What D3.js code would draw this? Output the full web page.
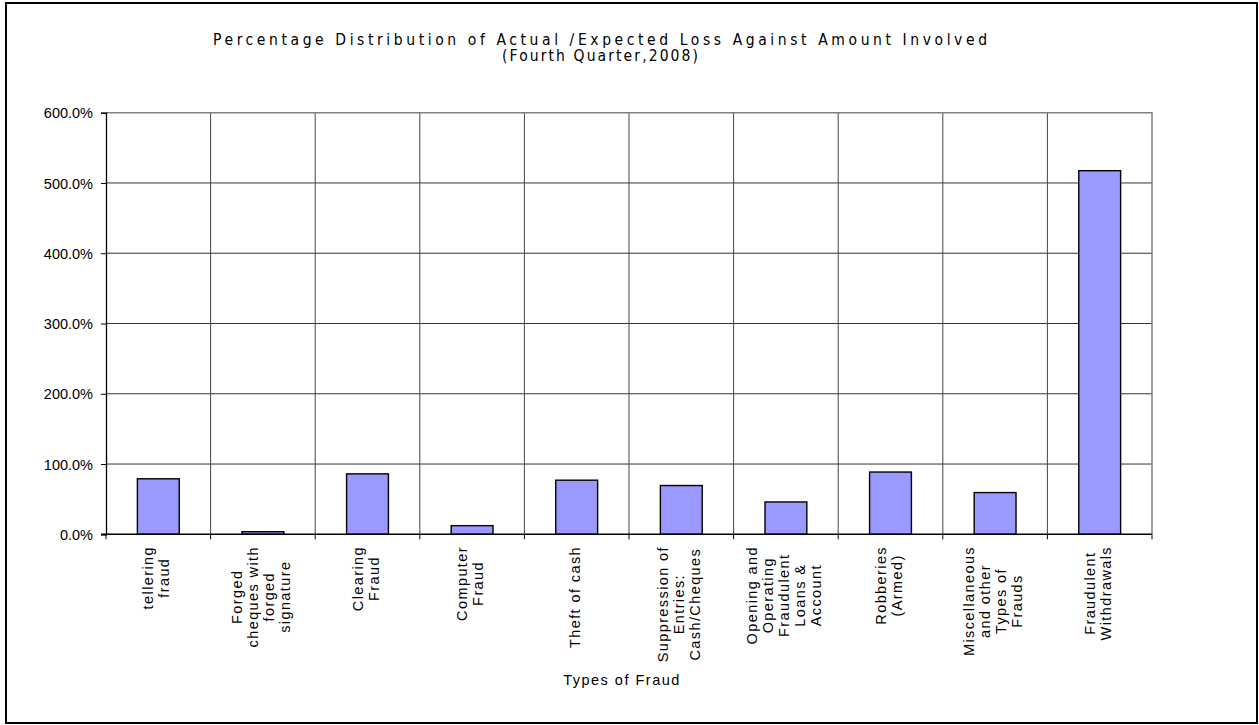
<!DOCTYPE html>
<html>
<head>
<meta charset="utf-8">
<script src="https://cdn.jsdelivr.net/npm/d3@7/dist/d3.min.js"></script>
<style>
  html, body { margin: 0; padding: 0; background: #fff; }
  svg { display: block; }
  text { font-family: "Liberation Sans", Arial, sans-serif; fill: #000; }
</style>
</head>
<body>
<svg id="chart" width="1259" height="725"></svg>
<script>
const titleLines = ["Percentage Distribution of Actual /Expected Loss Against Amount Involved", "(Fourth Quarter,2008)"];
const categories = [
  ["tellering", "fraud"],
  ["Forged", "cheques with", "forged", "signature"],
  ["Clearing", "Fraud"],
  ["Computer", "Fraud"],
  ["Theft of cash"],
  ["Suppression of", "Entries:", "Cash/Cheques"],
  ["Opening and", "Operating", "Fraudulent", "Loans &", "Account"],
  ["Robberies", "(Armed)"],
  ["Miscellaneous", "and other", "Types of", "Frauds"],
  ["Fraudulent", "Withdrawals"]
];
const values = [0.79, 0.037, 0.86, 0.123, 0.77, 0.694, 0.46, 0.886, 0.594, 5.175];
const yTicks = [0, 1, 2, 3, 4, 5, 6];
const xAxisTitle = "Types of Fraud";

const svg = d3.select("#chart");
const L = 106, R = 1152, T = 112.7, B = 534.3;
const keys = categories.map((c, i) => i);

const xCat = d3.scaleBand().domain(keys).range([L, R]).padding(0);
const xBar = d3.scaleBand().domain(keys).range([L, R]).paddingInner(0.6).paddingOuter(0.3);
const y = d3.scaleLinear().domain([0, 6]).range([B, T]);

// outer border
svg.append("rect").attr("x", 6).attr("y", 3).attr("width", 1251).attr("height", 720)
  .attr("fill", "#fff").attr("stroke", "#000").attr("stroke-width", 2);

// horizontal gridlines
svg.append("g").selectAll("line").data(yTicks.filter(t => t > 0 && t < 6)).join("line")
  .attr("x1", L).attr("x2", R).attr("y1", d => y(d)).attr("y2", d => y(d))
  .attr("stroke", "#333").attr("stroke-width", 1);

// vertical gridlines at category boundaries
svg.append("g").selectAll("line").data(keys.slice(1)).join("line")
  .attr("x1", d => xCat(d)).attr("x2", d => xCat(d)).attr("y1", T).attr("y2", B)
  .attr("stroke", "#444").attr("stroke-width", 1);

// plot border top/right
svg.append("path")
  .attr("d", `M${L},${y(6)}H${R}V${B}`)
  .attr("fill", "none").attr("stroke", "#808080").attr("stroke-width", 1.5);

// bars
svg.append("g").selectAll("rect").data(values).join("rect")
  .attr("x", (d, i) => xBar(i)).attr("width", xBar.bandwidth())
  .attr("y", d => y(d)).attr("height", d => y(0) - y(d))
  .attr("fill", "#9999FF").attr("stroke", "#000").attr("stroke-width", 1.4);

// y axis
const yAxis = d3.axisLeft(y).tickValues(yTicks).tickFormat(d3.format(".1%")).tickSize(5).tickPadding(8);
const gy = svg.append("g").attr("transform", `translate(${L},0)`).call(yAxis)
  .attr("font-size", 14.5);
gy.select(".domain").attr("stroke", "#000").attr("stroke-width", 1.3);
gy.selectAll(".tick line").attr("stroke", "#000");
gy.selectAll("text").attr("fill", "#000").attr("dy", "0.35em");

// x axis line & ticks at boundaries
const gx = svg.append("g");
gx.append("line").attr("x1", L - 5).attr("x2", R).attr("y1", B).attr("y2", B)
  .attr("stroke", "#000").attr("stroke-width", 1.5);
gx.selectAll("line.tk").data(keys.concat([keys.length])).join("line").attr("class", "tk")
  .attr("x1", d => L + d * xCat.step()).attr("x2", d => L + d * xCat.step())
  .attr("y1", B).attr("y2", B + 5).attr("stroke", "#000");

// x labels (rotated, lines centered, block top-aligned)
const lineH = 16, blockTop = 546;
categories.forEach((lines, i) => {
  const cx = xCat(i) + xCat.bandwidth() / 2 + 3;
  const g = svg.append("g");
  const texts = lines.map((ln, j) => g.append("text").text(ln)
    .attr("font-size", 14.5).attr("letter-spacing", 1.4).attr("text-anchor", "middle"));
  const maxLen = d3.max(texts, t => t.node().getComputedTextLength());
  const cy = blockTop + maxLen / 2;
  const n = lines.length;
  texts.forEach((t, j) => {
    const bx = cx + (j - (n - 1) / 2) * lineH;
    t.attr("transform", `translate(${bx},${cy}) rotate(-90)`);
  });
});

// axis title
svg.append("text").attr("x", 622).attr("y", 685).attr("text-anchor", "middle")
  .attr("font-size", 14.5).attr("letter-spacing", 1.5).text(xAxisTitle);

// chart title
const titleWidths = [774, 196];
titleLines.forEach((t, i) => {
  svg.append("text").attr("x", 600).attr("y", 45 + i * 15.5).attr("text-anchor", "middle")
    .style("font-family", "'DejaVu Sans Condensed', 'DejaVu Sans', sans-serif")
    .attr("font-size", 15.5).attr("textLength", titleWidths[i]).attr("lengthAdjust", "spacing")
    .text(t);
});
</script>
</body>
</html>
